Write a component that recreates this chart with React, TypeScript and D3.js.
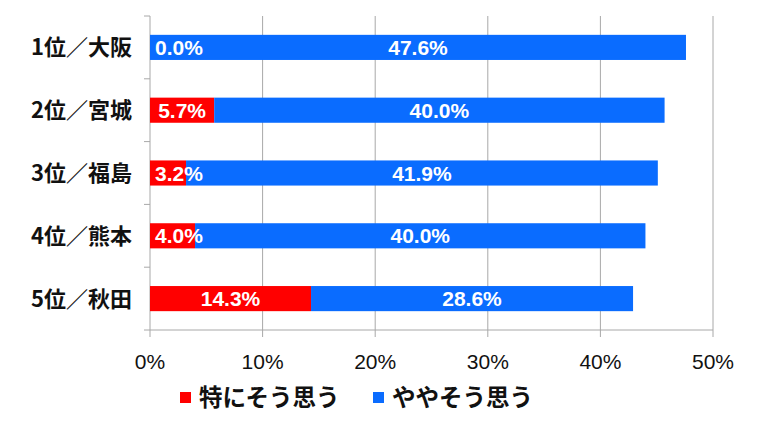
import React, { useRef, useEffect } from 'react';
import * as d3 from 'd3';

const categories = ['1位／大阪', '2位／宮城', '3位／福島', '4位／熊本', '5位／秋田'];
const strongValues = [0.0, 5.7, 3.2, 4.0, 14.3];
const mildValues = [47.6, 40.0, 41.9, 40.0, 28.6];
const seriesNames = ['特にそう思う', 'ややそう思う'];
const xTicks = [0, 10, 20, 30, 40, 50];

const App: React.FC = () => {
    const svgRef = useRef<SVGSVGElement | null>(null);

    useEffect(() => {
        if (!svgRef.current) return;

        const width = 766;
        const height = 422;
        const margin = { top: 16, right: 53, bottom: 92, left: 150 };
        const colors = ['#ff0000', '#0a6cff'];
        const jpFont = '"Noto Sans CJK JP", sans-serif';
        const numFont = '"Liberation Sans", sans-serif';

        const svg = d3.select(svgRef.current);
        svg.selectAll('*').remove();

        const x = d3
            .scaleLinear()
            .domain([0, 50])
            .range([margin.left, width - margin.right]);

        const y = d3
            .scaleBand()
            .domain(categories)
            .range([margin.top, height - margin.bottom])
            .paddingInner(0.6)
            .paddingOuter(0.3);

        const step = y.step();
        const axisY = height - margin.bottom;

        // Grid lines
        svg.append('g')
            .selectAll('line')
            .data(xTicks.slice(1))
            .join('line')
            .attr('x1', d => x(d))
            .attr('x2', d => x(d))
            .attr('y1', margin.top)
            .attr('y2', axisY + 7)
            .attr('stroke', '#a8a8a8')
            .attr('stroke-width', 1);

        // Left axis line and ticks at category boundaries
        svg.append('line')
            .attr('x1', x(0))
            .attr('x2', x(0))
            .attr('y1', margin.top)
            .attr('y2', axisY + 7)
            .attr('stroke', '#a8a8a8');

        svg.append('g')
            .selectAll('line')
            .data(d3.range(categories.length + 1))
            .join('line')
            .attr('x1', x(0) - 6)
            .attr('x2', x(0))
            .attr('y1', i => margin.top + i * step)
            .attr('y2', i => margin.top + i * step)
            .attr('stroke', '#a8a8a8');

        // Bottom axis
        svg.append('line')
            .attr('x1', x(0))
            .attr('x2', x(50))
            .attr('y1', axisY)
            .attr('y2', axisY)
            .attr('stroke', '#a8a8a8');

        svg.append('g')
            .selectAll('text')
            .data(xTicks)
            .join('text')
            .attr('x', d => x(d))
            .attr('y', axisY + 39)
            .attr('text-anchor', 'middle')
            .attr('font-family', '"Liberation Sans", sans-serif')
            .attr('font-size', 21)
            .attr('fill', '#111')
            .text(d => `${d}%`);

        // Category labels
        svg.append('g')
            .selectAll('text')
            .data(categories)
            .join('text')
            .attr('x', 132)
            .attr('y', d => (y(d) || 0) + y.bandwidth() / 2)
            .attr('dy', '0.36em')
            .attr('text-anchor', 'end')
            .attr('font-family', jpFont)
            .attr('font-weight', 'bold')
            .attr('font-size', 22)
            .attr('fill', '#111')
            .text(d => d);

        const rows = categories.map((c, i) => ({
            c,
            a: strongValues[i],
            b: mildValues[i],
        }));

        // Bars
        const g = svg.append('g');
        g.selectAll('rect.strong')
            .data(rows)
            .join('rect')
            .attr('class', 'strong')
            .attr('x', x(0))
            .attr('y', d => y(d.c) || 0)
            .attr('width', d => x(d.a) - x(0))
            .attr('height', y.bandwidth())
            .attr('fill', colors[0]);

        g.selectAll('rect.mild')
            .data(rows)
            .join('rect')
            .attr('class', 'mild')
            .attr('x', d => x(d.a))
            .attr('y', d => y(d.c) || 0)
            .attr('width', d => x(d.a + d.b) - x(d.a))
            .attr('height', y.bandwidth())
            .attr('fill', colors[1]);

        // Value labels
        const labelAttrs = (sel: any) =>
            sel
                .attr('dy', '0.36em')
                .attr('text-anchor', 'middle')
                .attr('font-family', numFont)
                .attr('font-weight', 'bold')
                .attr('font-size', 21)
                .attr('fill', '#fff');

        g.selectAll('text.strong')
            .data(rows)
            .join('text')
            .attr('class', 'strong')
            .attr('x', d => Math.max((x(0) + x(d.a)) / 2, x(0) + 29))
            .attr('y', d => (y(d.c) || 0) + y.bandwidth() / 2)
            .call(labelAttrs)
            .text(d => `${d.a.toFixed(1)}%`);

        g.selectAll('text.mild')
            .data(rows)
            .join('text')
            .attr('class', 'mild')
            .attr('x', d => (x(d.a) + x(d.a + d.b)) / 2)
            .attr('y', d => (y(d.c) || 0) + y.bandwidth() / 2)
            .call(labelAttrs)
            .text(d => `${d.b.toFixed(1)}%`);

        // Legend
        const legendX = [180, 373];
        const legend = svg.append('g');
        seriesNames.forEach((name, i) => {
            legend.append('rect')
                .attr('x', legendX[i])
                .attr('y', 392)
                .attr('width', 11)
                .attr('height', 11)
                .attr('fill', colors[i]);
            legend.append('text')
                .attr('x', legendX[i] + 19)
                .attr('y', 398)
                .attr('dy', '0.36em')
                .attr('font-family', jpFont)
                .attr('font-weight', 'bold')
                .attr('font-size', 23.5)
                .attr('fill', '#111')
                .text(name);
        });
    }, []);

    return (
        <svg
            ref={svgRef}
            width={766}
            height={422}
            style={{ position: 'absolute', left: 0, top: 0, background: '#fff' }}
        />
    );
};

export default App;
